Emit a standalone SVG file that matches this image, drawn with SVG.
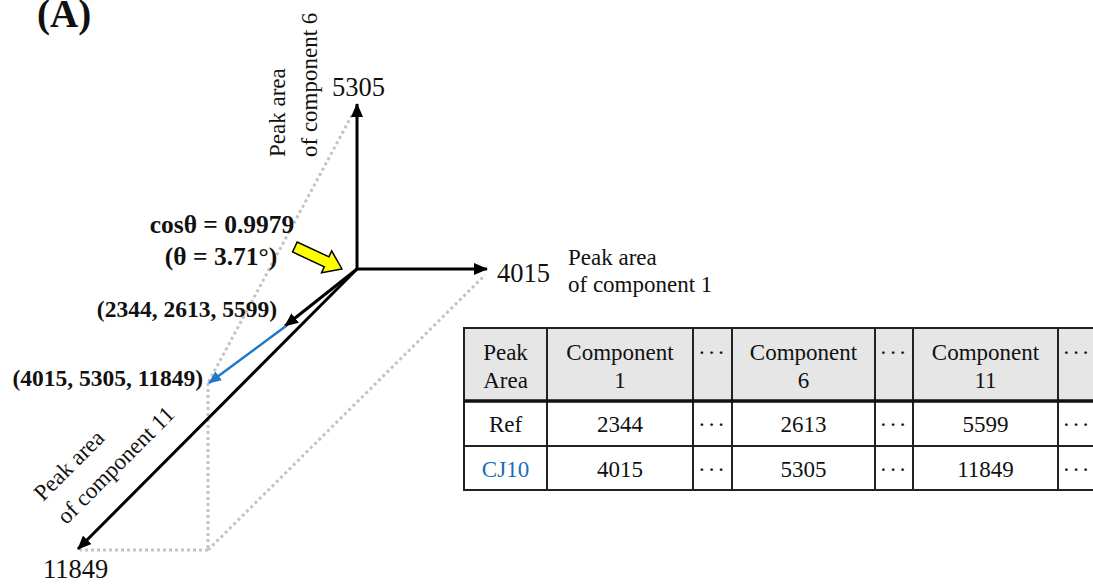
<svg xmlns="http://www.w3.org/2000/svg" width="1093" height="584" viewBox="0 0 1093 584">
<style>
.t{font-family:"Liberation Serif","Times New Roman",serif;fill:#111}
.b{font-weight:bold}
.num{font-size:26.5px}
.lab{font-size:23px}
.tb{font-size:23px;text-anchor:middle}
.ax{stroke:#000;stroke-width:3;fill:none}
.dot{stroke:#c4c4c4;stroke-width:3;stroke-dasharray:3 3;fill:none}
.grid{stroke:#222;stroke-width:2;fill:none}
</style>
<defs>
<marker id="ah" viewBox="0 0 14 12" refX="13" refY="6" markerWidth="14" markerHeight="12" markerUnits="userSpaceOnUse" orient="auto">
<path d="M0,0 L14,6 L0,12 Z" fill="#000"/>
</marker>
<marker id="ahb" viewBox="0 0 14 12" refX="13" refY="6" markerWidth="13" markerHeight="11" markerUnits="userSpaceOnUse" orient="auto">
<path d="M0,0 L14,6 L0,12 Z" fill="#1f78c8"/>
</marker>
</defs>
<rect width="1093" height="584" fill="#fff"/>
<text class="t b" x="37" y="27" font-size="39">(A)</text>

<g id="connectors">
<path class="dot" d="M352,115 L208,383"/>
<path class="dot" d="M208,383 L208,550"/>
<path class="dot" d="M208,550 L80,550"/>
<path class="dot" d="M208,550 L485,275"/>
<path class="ax" d="M357,269 L357,104" marker-end="url(#ah)"/>
<path class="ax" d="M357,269 L487,269" marker-end="url(#ah)"/>
<path class="ax" d="M357,269 L78,549" marker-end="url(#ah)"/>
<path class="ax" d="M357,269 L285,326" marker-end="url(#ah)"/>
<path d="M286,326 L209,383" stroke="#1f78c8" stroke-width="2.5" fill="none" marker-end="url(#ahb)"/>
</g>

<g id="yellow-arrow">
<polygon transform="translate(342,269) rotate(25)" points="0,0 -17,-12 -17,-5.5 -52,-5.5 -52,5.5 -17,5.5 -17,12" fill="#ffff00" stroke="#000" stroke-width="1.5" stroke-linejoin="miter"/>
</g>

<g id="axis-labels">
<text class="t num" x="332" y="96">5305</text>
<text class="t num" x="497" y="282">4015</text>
<text class="t num" x="43" y="578">11849</text>
<text class="t lab" x="568" y="265">Peak area</text>
<text class="t lab" x="568" y="292">of component 1</text>
<g transform="translate(285,157) rotate(-90)">
<text class="t lab" x="0" y="0">Peak area</text>
<text class="t lab" x="0" y="32">of component 6</text>
</g>
<g transform="translate(43,502) rotate(-45)">
<text class="t lab" x="0" y="0">Peak area</text>
<text class="t lab" x="0" y="33">of component 11</text>
</g>
</g>

<g id="cos-label">
<text class="t b" font-size="25.5" x="222" y="233" text-anchor="middle">cosθ = 0.9979</text>
<text class="t b" font-size="25.5" x="221" y="265" text-anchor="middle">(θ = 3.71°)</text>
</g>
<g id="ref-label">
<text class="t b" font-size="23.5" x="277" y="317" text-anchor="end">(2344, 2613, 5599)</text>
</g>
<g id="cj10-label">
<text class="t b" font-size="23.5" x="203" y="386" text-anchor="end">(4015, 5305, 11849)</text>
</g>

<g id="table">
<rect x="464" y="328" width="640" height="73" fill="#e6e6e6"/>
<rect x="464" y="328" width="640" height="162" class="grid"/>
<path class="grid" d="M547,328 V490 M693,328 V490 M732,328 V490 M875,328 V490 M913,328 V490 M1058,328 V490 M464,446 H1104"/>
<path d="M464,401 H1104" stroke="#111" stroke-width="3.5"/>
<text class="t tb" x="505.5" y="360">Peak</text>
<text class="t tb" x="505.5" y="388">Area</text>
<text class="t tb" x="620" y="360">Component</text>
<text class="t tb" x="620" y="388">1</text>
<text class="t tb" x="803.5" y="360">Component</text>
<text class="t tb" x="803.5" y="388">6</text>
<text class="t tb" x="985.5" y="360">Component</text>
<text class="t tb" x="985.5" y="388">11</text>
<text class="t tb" x="712.5" y="360" letter-spacing="2">···</text>
<text class="t tb" x="894" y="360" letter-spacing="2">···</text>
<text class="t tb" x="1077" y="360" letter-spacing="2">···</text>
<text class="t tb" x="505.5" y="432">Ref</text>
<text class="t tb" x="620" y="432">2344</text>
<text class="t tb" x="712.5" y="432" letter-spacing="2">···</text>
<text class="t tb" x="803.5" y="432">2613</text>
<text class="t tb" x="894" y="432" letter-spacing="2">···</text>
<text class="t tb" x="985.5" y="432">5599</text>
<text class="t tb" x="1077" y="432" letter-spacing="2">···</text>
<text class="t tb" x="505.5" y="477" style="fill:#1a6fb8">CJ10</text>
<text class="t tb" x="620" y="477">4015</text>
<text class="t tb" x="712.5" y="477" letter-spacing="2">···</text>
<text class="t tb" x="803.5" y="477">5305</text>
<text class="t tb" x="894" y="477" letter-spacing="2">···</text>
<text class="t tb" x="985.5" y="477">11849</text>
<text class="t tb" x="1077" y="477" letter-spacing="2">···</text>
</g>
</svg>
